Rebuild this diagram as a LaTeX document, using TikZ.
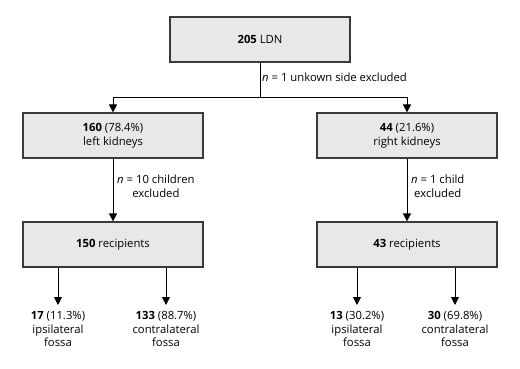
\documentclass[tikz,border=0pt]{standalone}
\usepackage{fontspec}
\setmainfont{Open Sans}
\usetikzlibrary{arrows.meta}
\definecolor{boxfill}{HTML}{E8E8E8}
\definecolor{boxline}{HTML}{3A3A3A}
\begin{document}
\begin{tikzpicture}[x=1pt,y=-1pt,
  font=\fontsize{11.3}{13.8}\selectfont,
  box/.style={draw=boxline,fill=boxfill,line width=1.2pt,minimum width=180pt,minimum height=45pt,align=center,inner sep=0pt},
  lbl/.style={align=center,inner sep=0pt},
  side/.style={align=left,inner sep=0pt,anchor=west},
  arr/.style={line width=1pt,-{Triangle[length=8pt,width=8pt]}},
  ln/.style={line width=1pt}]
\useasboundingbox (0,0) rectangle (520,369);
\node[box] (top) at (260,39.5) {\textbf{205} LDN};
\node[box] (L) at (113,135.5) {\textbf{160} (78.4\%)\\left kidneys};
\node[box] (R) at (407,135.5) {\textbf{44} (21.6\%)\\right kidneys};
\node[box] (L2) at (113,244.5) {\textbf{150} recipients};
\node[box] (R2) at (407,244.5) {\textbf{43} recipients};
\coordinate (j) at (260,98);
\draw[ln] (top.south) -- (j);
\draw[arr] (j) -| (L.north);
\draw[arr] (j) -| (R.north);
\node[side] (t1) at (262,77) {\textit{n} = 1 unkown side excluded};
\draw[arr] (L.south) -- (L2.north);
\draw[arr] (R.south) -- (R2.north);
\node[lbl,anchor=north west] (t2) at (117,175) {\textit{n} = 10 children\\excluded};
\node[lbl,anchor=north west] (t3) at (411,175) {\textit{n} = 1 child\\excluded};
\node[lbl,anchor=north] (a) at (58,311) {\textbf{17} (11.3\%)\\ipsilateral\\fossa};
\node[lbl,anchor=north] (b) at (166,311) {\textbf{133} (88.7\%)\\contralateral\\fossa};
\node[lbl,anchor=north] (c) at (357,311) {\textbf{13} (30.2\%)\\ipsilateral\\fossa};
\node[lbl,anchor=north] (d) at (455,311) {\textbf{30} (69.8\%)\\contralateral\\fossa};
\draw[arr] (L2.south -| a) -- ([yshift=6pt]a.north);
\draw[arr] (L2.south -| b) -- ([yshift=6pt]b.north);
\draw[arr] (R2.south -| c) -- ([yshift=6pt]c.north);
\draw[arr] (R2.south -| d) -- ([yshift=6pt]d.north);
\end{tikzpicture}
\end{document}
